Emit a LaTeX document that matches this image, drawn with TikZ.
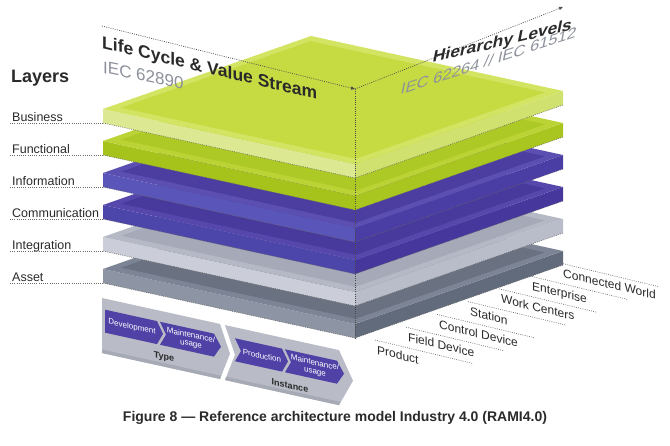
\documentclass[tikz,border=0pt]{standalone}
\usepackage{fontspec}
\setmainfont{Liberation Sans}
\usetikzlibrary{arrows.meta}
\definecolor{guidec}{HTML}{6A6A6A}
\definecolor{axisc}{HTML}{4A4A4A}
\definecolor{txt}{HTML}{2A2A2A}
\definecolor{iec}{HTML}{8C919B}
% slab colours
\definecolor{busO}{HTML}{D3E362}\definecolor{busI}{HTML}{C6DA42}\definecolor{busL}{HTML}{DCE992}\definecolor{busR}{HTML}{D0E170}
\definecolor{funO}{HTML}{BBD334}\definecolor{funI}{HTML}{ADC925}\definecolor{funL}{HTML}{A6C31B}\definecolor{funR}{HTML}{A9C520}
\definecolor{infO}{HTML}{5B4FB2}\definecolor{infI}{HTML}{4C3EA1}\definecolor{infL}{HTML}{5A55B8}\definecolor{infR}{HTML}{4A3DA4}
\definecolor{comO}{HTML}{5547AC}\definecolor{comI}{HTML}{48399C}\definecolor{comL}{HTML}{4C45AA}\definecolor{comR}{HTML}{45379C}
\definecolor{intO}{HTML}{B5B9C6}\definecolor{intI}{HTML}{A6AAB8}\definecolor{intL}{HTML}{CBCED8}\definecolor{intR}{HTML}{B9BDC9}
\definecolor{assO}{HTML}{7C8495}\definecolor{assI}{HTML}{6A7282}\definecolor{assL}{HTML}{8D94A3}\definecolor{assR}{HTML}{626B7B}
\definecolor{bandg}{HTML}{B9BCC6}\definecolor{bandd}{HTML}{A6AAB5}\definecolor{purp}{HTML}{4F41A6}

\newcommand\rslab[5]{%
\begin{scope}[shift={(103,#1)}, x={(252pt,-55pt)}, y={(208pt,73pt)}, z={(0pt,-14pt)}]
 \fill[#4] (0,0,0)--(1,0,0)--(1,0,1)--(0,0,1)--cycle;
 \fill[#5] (1,0,0)--(1,1,0)--(1,1,1)--(1,0,1)--cycle;
 \fill[#2] (0,0,0)--(1,0,0)--(1,1,0)--(0,1,0)--cycle;
 \fill[#3] (0.035,0.045,0)--(0.965,0.045,0)--(0.965,0.955,0)--(0.035,0.955,0)--cycle;
 \draw[guide] (0,0,1)--(1,0,1)--(1,1,1);
\end{scope}}

\begin{document}
\begin{tikzpicture}[x=1pt,y=-1pt,
  guide/.style={draw=guidec, line width=0.6pt, dash pattern=on 0.9pt off 1.3pt},
  axis/.style={draw=axisc, line width=0.7pt, dash pattern=on 0.9pt off 1.3pt},
  layerlbl/.style={anchor=base west, inner sep=0pt, text=txt, font=\fontsize{12.5}{14}\selectfont},
  levlbl/.style={anchor=base west, inner sep=0pt, text=txt, font=\fontsize{12}{14}\selectfont, yslant=-0.24},
  chev/.style={fill=purp},
  chevtxt/.style={text=white, font=\fontsize{8}{8.5}\selectfont, align=center, inner sep=0pt, yslant=-0.22},
  bandlbl/.style={text=txt, font=\bfseries\fontsize{9}{10}\selectfont, inner sep=0pt, yslant=-0.22}]
\useasboundingbox (0,0) rectangle (670,445);
\fill[white] (0,0) rectangle (670,445);

% slabs, bottom to top
\rslab{269}{assO}{assI}{assL}{assR}
\rslab{237}{intO}{intI}{intL}{intR}
\rslab{205}{comO}{comI}{comL}{comR}
\rslab{173}{infO}{infI}{infL}{infR}
\rslab{141}{funO}{funI}{funL}{funR}
\rslab{109}{busO}{busI}{busL}{busR}

% layer labels and guide lines
\node[anchor=base west, inner sep=0pt, text=txt, font=\bfseries\fontsize{18}{20}\selectfont] (layers) at (11,82) {Layers};
\foreach \t [count=\k from 0] in {Business,Functional,Information,Communication,Integration,Asset}{
  \node[layerlbl] (ly\k) at (12,{121+32*\k}) {\t};
  \draw[guide] (10,{123+32*\k}) -- (103,{123+32*\k});
}

% axes
\coordinate (lcs) at (102,26);
\coordinate (top) at (355,89);
\coordinate (hle) at (563,7);
\coordinate (bot) at (355,338);
\draw[axis,-{Triangle[length=4pt,width=3.2pt]}] (lcs) -- (top);
\draw[axis,-{Triangle[length=4pt,width=3.2pt]}] (top) -- (hle);
\draw[axis] (top) -- (bot);

\node[anchor=base west, inner sep=0pt, text=txt, font=\bfseries\fontsize{17.5}{20}\selectfont, yslant=-0.24] (lcvs) at (102,48) {Life Cycle \& Value Stream};
\node[anchor=base west, inner sep=0pt, text=iec, font=\fontsize{17}{20}\selectfont, yslant=-0.2] (iec1) at (103,73) {IEC 62890};
\node[anchor=base west, inner sep=0pt, text=txt, font=\bfseries\fontsize{16.5}{20}\selectfont, xslant=0.2, yslant=0.25] (hl) at (432,63) {Hierarchy Levels};
\node[anchor=base west, inner sep=0pt, text=iec, font=\fontsize{15.5}{18}\selectfont, xslant=0.2, yslant=0.35] (iec2) at (400,95) {IEC 62264 // IEC 61512};

% hierarchy level labels
\foreach \t [count=\k from 0] in {Product,Field Device,Control Device,Station,Work Centers,Enterprise,Connected World}{
  \pgfmathsetmacro\xx{377+31*\k}
  \pgfmathsetmacro\yy{354-12.8*\k}
  \node[levlbl] (hv\k) at (\xx,\yy) {\t};
  \draw[guide] (\xx-2,\yy-14) -- ++(98,23.5);
}

% life-cycle band
\begin{scope}[shift={(102,298)}, x={(1pt,-0.22pt)}, y={(0pt,-1pt)}]
 \fill[bandg] (0,0)--(118,0)--(128,27.5)--(118,55)--(0,55)--cycle;
 \fill[bandg] (123,0)--(237,0)--(251,27.5)--(237,55)--(123,55)--(133,27.5)--cycle;
 \fill[bandd] (0,51.5)--(119.3,51.5)--(118,55)--(0,55)--cycle;
 \fill[bandd] (124.3,51.5)--(238.3,51.5)--(237,55)--(123,55)--cycle;
 \fill[chev] (3,11)--(55,11)--(61,22.5)--(55,34)--(3,34)--cycle;
 \fill[chev] (58,11)--(112,11)--(119,22.5)--(112,34)--(58,34)--(64,22.5)--cycle;
 \fill[chev] (133,11)--(180,11)--(186,22.5)--(180,34)--(133,34)--(139,22.5)--cycle;
 \fill[chev] (183,11)--(235,11)--(242,22.5)--(235,34)--(183,34)--(189,22.5)--cycle;
 \node[chevtxt] (dev) at (30,22.5) {Development};
 \node[chevtxt] (mu1) at (89,22.5) {Maintenance/\\usage};
 \node[chevtxt] (prod) at (160,22.5) {Production};
 \node[chevtxt] (mu2) at (213,22.5) {Maintenance/\\usage};
 \node[bandlbl] (type) at (62,45.5) {Type};
 \node[bandlbl] (inst) at (188,46.5) {Instance};
\end{scope}

% caption
\node[text=txt, font=\bfseries\fontsize{14}{16}\selectfont, inner sep=0pt] (cap) at (335,418) {Figure 8 — Reference architecture model Industry 4.0 (RAMI4.0)};
\end{tikzpicture}
\end{document}
